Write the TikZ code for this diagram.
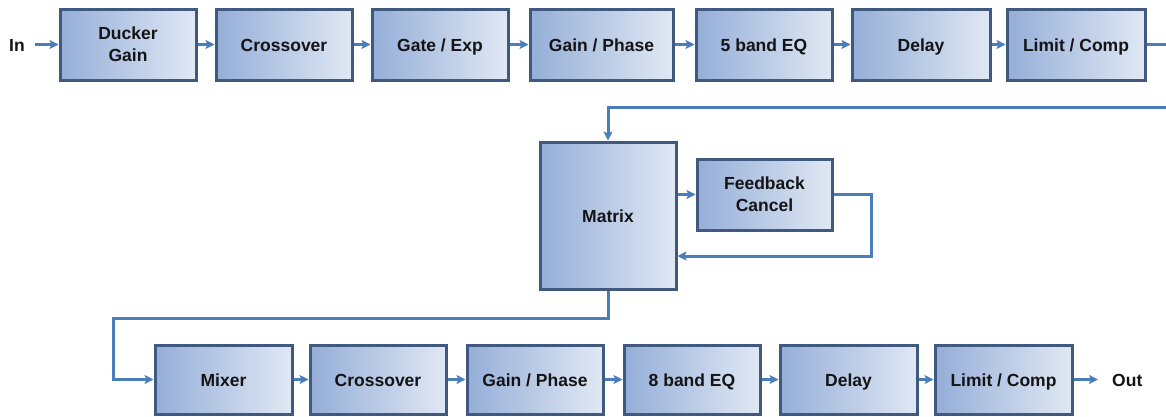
\documentclass[tikz,border=0pt]{standalone}
\usepackage{fontspec}
\setmainfont{Liberation Sans}
\usetikzlibrary{arrows.meta}
\definecolor{boxedge}{HTML}{3F5A7E}
\definecolor{boxleft}{HTML}{95AED8}
\definecolor{boxright}{HTML}{E0E8F4}
\definecolor{wire}{HTML}{4A7EBB}
\definecolor{txt}{HTML}{141414}
\newcommand{\bxfont}{\fontsize{17.5}{22}\selectfont\bfseries}
\newcommand{\bxstrut}{\rule[-3.4pt]{0pt}{21.4pt}}
\newcommand{\topstrut}{\rule{0pt}{18pt}}
\begin{document}
\begin{tikzpicture}[x=1pt,y=-1pt,
  box/.style={draw=boxedge, line width=3pt, left color=boxleft, right color=boxright,
    minimum height=71pt, align=center, text=txt, inner sep=0pt, font=\bxfont},
  onebox/.style={box, execute at begin node=\bxstrut},
  twobox/.style={box, execute at begin node=\topstrut},
  lbl/.style={text=txt, font=\bxfont, inner sep=0pt, execute at begin node=\bxstrut},
  wireline/.style={draw=wire, line width=3pt},
  arr/.style={wireline, -{Stealth[length=9pt,width=9pt,inset=2pt]}}]
\useasboundingbox (0,0) rectangle (1166,416);
% top row
\node[lbl] (in) at (17,44.5) {In};
\node[twobox, minimum width=136pt] (b1) at (128,44.5) {Ducker\\Gain};
\node[onebox, minimum width=136pt] (b2) at (284,44.5) {Crossover};
\node[onebox, minimum width=136pt] (b3) at (440,44.5) {Gate / Exp};
\node[onebox, minimum width=143pt] (b4) at (601.5,44.5) {Gain / Phase};
\node[onebox, minimum width=136pt] (b5) at (764,44.5) {5 band EQ};
\node[onebox, minimum width=138pt] (b6) at (921,44.5) {Delay};
\node[onebox, minimum width=138pt] (b7) at (1076,44.5) {Limit / Comp};
\coordinate (redge) at (1166,44.5);
\coordinate (rret) at (1166,107);
% middle
\node[onebox, minimum width=136pt, minimum height=147pt] (mx) at (608,215.5) {Matrix};
\node[twobox, minimum width=135pt] (fb) at (764.5,194.5) {Feedback\\Cancel};
\coordinate (fbr) at (871,256);
\coordinate (lret) at (113,318);
% bottom row
\node[onebox, minimum width=137pt, minimum height=69pt] (m1) at (223.5,379.5) {Mixer};
\node[onebox, minimum width=136pt, minimum height=69pt] (m2) at (378,379.5) {Crossover};
\node[onebox, minimum width=136pt, minimum height=69pt] (m3) at (535,379.5) {Gain / Phase};
\node[onebox, minimum width=136pt, minimum height=69pt] (m4) at (692,379.5) {8 band EQ};
\node[onebox, minimum width=137pt, minimum height=69pt] (m5) at (848.5,379.5) {Delay};
\node[onebox, minimum width=137pt, minimum height=69pt] (m6) at (1003.5,379.5) {Limit / Comp};
\node[lbl, anchor=west] (out) at (1112,379.5) {Out};
% connectors
\draw[arr] (in.east) ++(10,0) coordinate (ins) (ins) -- (b1.west);
\draw[arr] (b1) -- (b2);
\draw[arr] (b2) -- (b3);
\draw[arr] (b3) -- (b4);
\draw[arr] (b4) -- (b5);
\draw[arr] (b5) -- (b6);
\draw[arr] (b6) -- (b7);
\draw[wireline] (b7.east) -- (redge);
\draw[arr] (rret) -| (mx.north);
\draw[arr] (mx.east |- fb.west) -- (fb.west);
\draw[arr] (fb.east) -| (fbr) -- (mx.east |- fbr);
\draw[arr] (mx.south) |- (lret) |- (m1.west);
\draw[arr] (m1) -- (m2);
\draw[arr] (m2) -- (m3);
\draw[arr] (m3) -- (m4);
\draw[arr] (m4) -- (m5);
\draw[arr] (m5) -- (m6);
\draw[arr] (m6.east) -- ([xshift=-14pt]out.west);
\end{tikzpicture}
\end{document}
